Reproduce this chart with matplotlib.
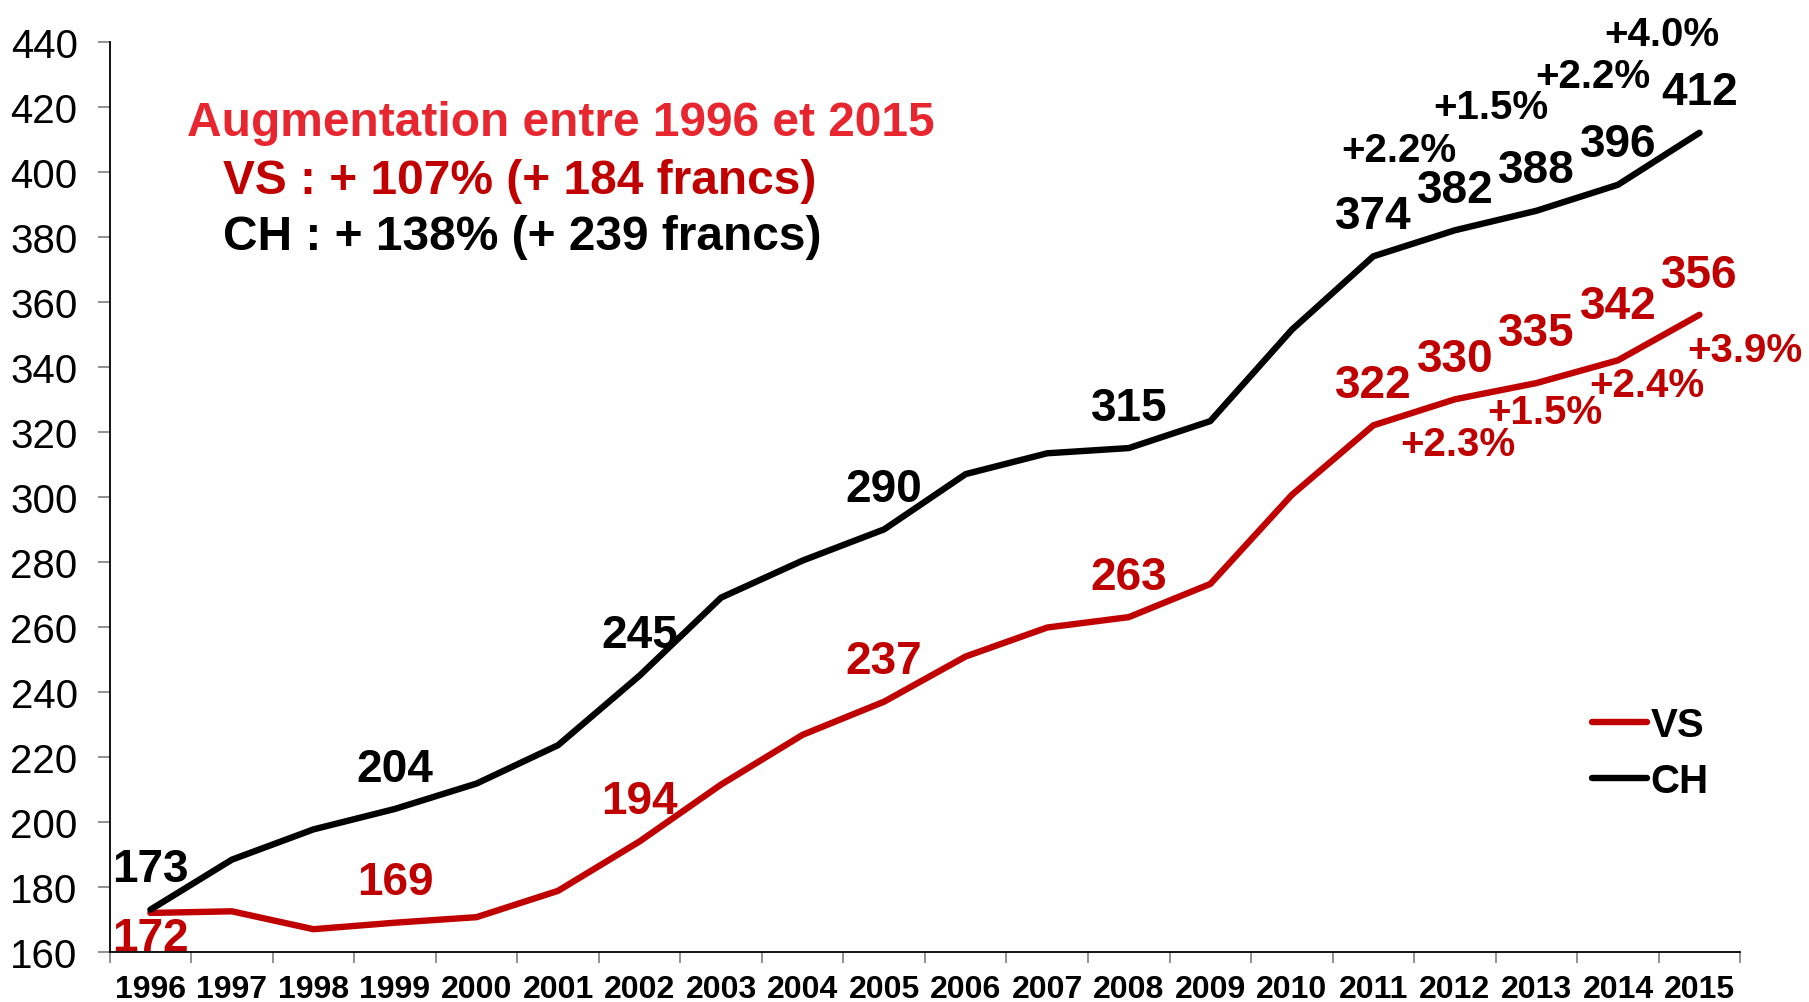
import matplotlib
matplotlib.use("Agg")
import matplotlib.pyplot as plt

plt.rcParams['font.family'] = ['Liberation Sans', 'DejaVu Sans']

years = [str(y) for y in range(1996, 2016)]
vs = [172, 172.5, 167, 169, 170.7, 178.8, 194, 211.5, 226.8, 237,
      250.9, 259.8, 263, 273.2, 300.6, 322, 330, 335, 342, 356]
ch = [173, 188.4, 197.7, 204, 211.8, 223.6, 245, 269, 280.4, 290,
      307, 313.4, 315, 323.3, 351.4, 374, 382, 388, 396, 412]

# years that get a value label
vs_lab_idx = [0, 3, 6, 9, 12, 15, 16, 17, 18, 19]
ch_lab_idx = [0, 3, 6, 9, 12, 15, 16, 17, 18, 19]

ch_pct = ["+2.2%", "+1.5%", "+2.2%", "+4.0%"]
vs_pct = ["+2.3%", "+1.5%", "+2.4%", "+3.9%"]
pct_idx = [16, 17, 18, 19]

VS_RED = "#c00000"
TITLE_RED = "#e8262f"

fig = plt.figure(figsize=(18.09, 10.03), dpi=100)
ax = fig.add_axes([0.0606, 0.0499, 0.9014, 0.9075])

x = list(range(len(years)))
ax.plot(x, vs, color=VS_RED, lw=4.6, label="VS", solid_capstyle="round")
ax.plot(x, ch, color="black", lw=4.6, label="CH", solid_capstyle="round")

ax.set_xlim(-0.5, len(years) - 0.5)
ax.set_ylim(160, 440)
ax.set_yticks(range(160, 441, 20))
ax.tick_params(axis='y', labelsize=29, length=9, width=1.3, color="#888888", pad=14)

ax.set_xticks([i - 0.5 for i in range(len(years) + 1)])
ax.set_xticklabels([])
ax.set_xticks(x, minor=True)
ax.set_xticklabels(years, minor=True, fontsize=23, fontweight="bold")
ax.tick_params(axis='x', which='major', length=8, width=1.3, color="#888888")
ax.tick_params(axis='x', which='minor', length=0, pad=16)

for s in ["top", "right"]:
    ax.spines[s].set_visible(False)
for s in ["left", "bottom"]:
    ax.spines[s].set_linewidth(1.3)

# value labels
vs_dy = {0: -18, 17: 36, 18: 39}
for i in ch_lab_idx:
    ax.annotate(f"{ch[i]:.0f}", (i, ch[i]), xytext=(0, 29), textcoords="offset points",
                ha="center", va="center", fontsize=33, fontweight="bold", color="black")
for i in vs_lab_idx:
    ax.annotate(f"{vs[i]:.0f}", (i, vs[i]), xytext=(0, vs_dy.get(i, 29)), textcoords="offset points",
                ha="center", va="center", fontsize=33, fontweight="bold", color=VS_RED)

# percentage changes
ch_off = [(-40, 58), (-33, 75), (-18, 78), (-27, 71)]
vs_off = [(2, -32), (6, -21), (21, -18), (33, -25)]
for k, i in enumerate(pct_idx):
    ax.annotate(ch_pct[k], (i, ch[i]), xytext=ch_off[k], textcoords="offset points",
                ha="center", va="center", fontsize=29, fontweight="bold", color="black")
    ax.annotate(vs_pct[k], (i, vs[i]), xytext=vs_off[k], textcoords="offset points",
                ha="center", va="center", fontsize=29, fontweight="bold", color=VS_RED)

fig.text(187 / 1809, 1 - 123 / 1003, "Augmentation entre 1996 et 2015", color=TITLE_RED,
         fontsize=34.5, fontweight="bold", va="center", ha="left")
fig.text(223 / 1809, 1 - 181 / 1003, "VS : + 107% (+ 184 francs)", color=VS_RED,
         fontsize=34.5, fontweight="bold", va="center", ha="left")
fig.text(223 / 1809, 1 - 238 / 1003, "CH : + 138% (+ 239 francs)", color="black",
         fontsize=34.5, fontweight="bold", va="center", ha="left")

leg = ax.legend(loc="lower right", bbox_to_anchor=(1.003, 0.127), frameon=False,
                prop={"size": 29, "weight": "bold"}, handlelength=1.35, handletextpad=0.1,
                labelspacing=0.45)

fig.savefig("out.png", dpi=100)
